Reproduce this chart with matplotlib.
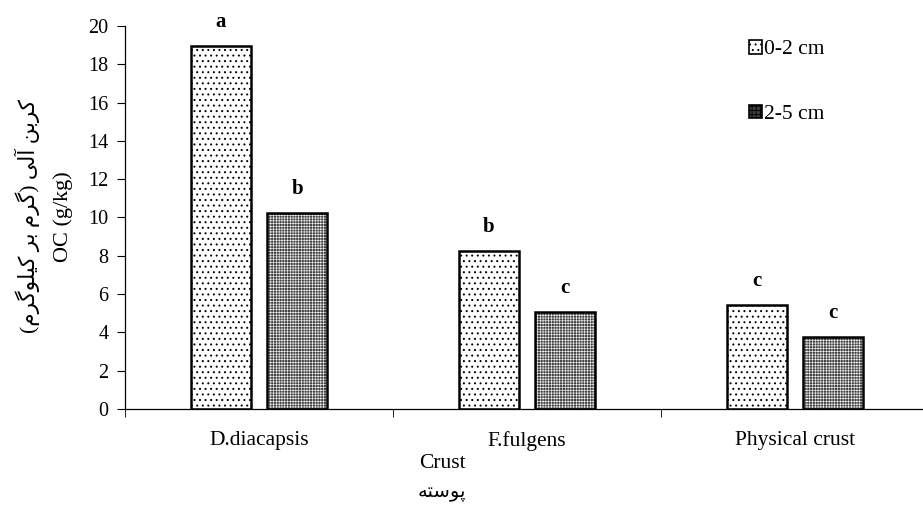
import numpy as np
import matplotlib.pyplot as plt
from matplotlib.patches import Patch

plt.rcParams['font.family'] = ['Liberation Serif', 'DejaVu Sans']
plt.rcParams['hatch.linewidth'] = 0.7

crusts = ['D.diacapsis', 'F.fulgens', 'Physical crust']
depths = ['0-2 cm', '2-5 cm']
oc_0_2 = [18.95, 8.25, 5.43]
oc_2_5 = [10.23, 5.07, 3.76]
let_0_2 = ['a', 'b', 'c']
let_2_5 = ['b', 'c', 'c']

# persian labels, pre-shaped (presentation forms) in visual order
ylab_fa = ('(' + '\uFEE1\uFEAE\uFB94\uFEEE\uFEE0\uFBFF\uFB90' + ' ' + '\uFEAE\uFE91' + ' '
           + '\uFEE1\uFEAE\uFB94' + ')' + ' ' + '\uFBFD\uFEDF\uFE81' + ' '
           + '\uFEE6\uFE91\uFEAE\uFB90')
xlab_fa = '\uFEEA\uFE98\uFEB3\uFEEE\uFB58'

fig = plt.figure(figsize=(9.23, 5.07), dpi=100)
ax = fig.add_axes([125/923, 98/507, 804/923, 383/507])

x = np.arange(len(crusts))
w = 0.225
off = 0.142

ax.bar(x - off, oc_0_2, w, facecolor='white', edgecolor='black',
       hatch='...', linewidth=1.8)
# second series: gray texture then black outline on top
plt.rcParams['hatch.linewidth'] = 0.45
ax.bar(x + off, oc_2_5, w, facecolor='#404040', edgecolor='#f0f0f0',
       hatch='++++++', linewidth=0)
ax.bar(x + off, oc_2_5, w, facecolor='none', edgecolor='black', linewidth=1.8)

for xi, v, t in zip(x - off, oc_0_2, let_0_2):
    ax.text(xi, v + 0.75, t, ha='center', va='bottom', fontsize=15, fontweight='bold')
for xi, v, t in zip(x + off, oc_2_5, let_2_5):
    ax.text(xi, v + 0.75, t, ha='center', va='bottom', fontsize=15, fontweight='bold')

ax.set_xlim(-0.5, 2.5)
ax.set_ylim(0, 20)
ax.set_yticks(np.arange(0, 21, 2))
ax.set_xticks(x)
ax.set_xticklabels(crusts)
ax.set_xticks([-0.5, 0.5, 1.5, 2.5], minor=True)
ax.tick_params(axis='x', which='major', length=0, pad=16, labelsize=15.5)
ax.tick_params(axis='x', which='minor', length=6, direction='out')
ax.tick_params(axis='y', length=6, direction='out', labelsize=14.5, pad=6)
ax.spines['top'].set_visible(False)
ax.spines['right'].set_visible(False)
for s in ['left', 'bottom']:
    ax.spines[s].set_linewidth(0.9)

fig.text(442/923, 1 - 463/507, 'Crust', ha='center', va='center', fontsize=15.5)
fig.text(442/923, 1 - 493/507, xlab_fa, ha='center', va='center', fontsize=14)
fig.text(63/923, 1 - 217/507, 'OC (g/kg)', ha='center', va='center',
         rotation=90, fontsize=16)
fig.text(27/923, 1 - 216/507, ylab_fa, ha='center', va='center',
         rotation=90, fontsize=15.5)

plt.rcParams['hatch.linewidth'] = 0.7
handles = [Patch(facecolor='white', edgecolor='black', hatch='...', linewidth=1.2),
           Patch(facecolor='#404040', edgecolor='black', hatch='++++', linewidth=1.2)]
fig.legend(handles, depths, loc='upper left', bbox_to_anchor=(749/923, 1 - 40/507),
           frameon=False, fontsize=15.5, handlelength=0.6, handleheight=0.6,
           handletextpad=0.1, labelspacing=2.1, borderaxespad=0, borderpad=0)

fig.savefig('out.png', dpi=100)
